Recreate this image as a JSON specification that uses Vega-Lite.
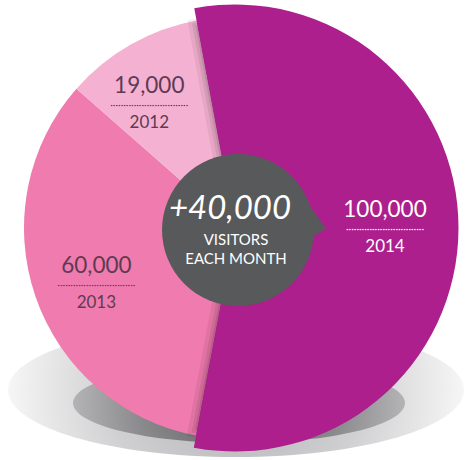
{
  "$schema": "https://vega.github.io/schema/vega-lite/v6.json",
  "width": 460,
  "height": 456,
  "autosize": "none",
  "padding": {"left": 5, "top": 0, "right": 0, "bottom": 4},
  "background": "white",
  "config": {"view": {"stroke": null}, "font": "Lato"},
  "data": {"values": [
    {"year": "2014", "visitors": 100000},
    {"year": "2013", "visitors": 60000},
    {"year": "2012", "visitors": 19000}
  ]},
  "resolve": {"scale": {"theta": "independent"}},
  "layer": [
    {
      "data": {"values": [{"k": "shadow-outer"}]},
      "mark": {"type": "point", "shape": "M-1,0A1,0.294 0 1,0 1,0A1,0.294 0 1,0 -1,0Z", "size": 207936, "filled": true, "opacity": 1, "strokeWidth": 0,
        "fill": {"gradient": "radial", "stops": [{"offset": 0, "color": "#b4b4b6"}, {"offset": 0.55, "color": "#d0d0d2"}, {"offset": 1, "color": "#f6f6f6"}]},
        "x": {"expr": "width/2+1"}, "y": {"expr": "height/2+162"}},
      "encoding": {}
    },
    {
      "data": {"values": [{"k": "shadow-inner"}]},
      "mark": {"type": "point", "shape": "M-1,0A1,0.241 0 1,0 1,0A1,0.241 0 1,0 -1,0Z", "size": 110224, "filled": true, "opacity": 1, "strokeWidth": 0,
        "fill": {"gradient": "radial", "stops": [{"offset": 0, "color": "#5e5e60"}, {"offset": 0.6, "color": "#8a8a8c"}, {"offset": 1, "color": "#b4b4b6"}]},
        "x": {"expr": "width/2+4"}, "y": {"expr": "height/2+175"}},
      "encoding": {}
    },
    {
      "layer": [
        {
          "mark": {"type": "arc", "outerRadius": 211},
          "encoding": {
            "theta": {"field": "visitors", "type": "quantitative", "stack": true, "scale": {"range": [-0.1833, 6.0999]}},
            "order": {"field": "visitors", "sort": "descending"},
            "color": {"field": "year", "type": "nominal", "scale": {"domain": ["2014", "2013", "2012"], "range": ["#AD1F8D", "#F07BAF", "#F5B1D2"]}, "legend": null}
          }
        },
        {
          "mark": {"type": "arc", "outerRadius": 204, "fillOpacity": 0, "stroke": "#000000", "strokeWidth": 18, "strokeOpacity": 0.06, "strokeJoin": "miter"},
          "encoding": {
            "theta": {"field": "visitors", "type": "quantitative", "stack": true},
            "order": {"field": "visitors", "sort": "descending"},
            "opacity": {"condition": {"test": "datum.year === '2014'", "value": 1}, "value": 0}
          }
        },
        {
          "mark": {"type": "arc", "outerRadius": 204, "fillOpacity": 0, "stroke": "#000000", "strokeWidth": 10, "strokeOpacity": 0.08, "strokeJoin": "miter"},
          "encoding": {
            "theta": {"field": "visitors", "type": "quantitative", "stack": true},
            "order": {"field": "visitors", "sort": "descending"},
            "opacity": {"condition": {"test": "datum.year === '2014'", "value": 1}, "value": 0}
          }
        },
        {
          "mark": {"type": "arc", "outerRadius": 204, "fillOpacity": 0, "stroke": "#000000", "strokeWidth": 4, "strokeOpacity": 0.1, "strokeJoin": "miter"},
          "encoding": {
            "theta": {"field": "visitors", "type": "quantitative", "stack": true},
            "order": {"field": "visitors", "sort": "descending"},
            "opacity": {"condition": {"test": "datum.year === '2014'", "value": 1}, "value": 0}
          }
        },
        {
          "mark": {"type": "arc", "outerRadius": 223.5},
          "encoding": {
            "theta": {"field": "visitors", "type": "quantitative", "stack": true},
            "order": {"field": "visitors", "sort": "descending"},
            "color": {"field": "year", "type": "nominal", "legend": null},
            "opacity": {"condition": {"test": "datum.year === '2014'", "value": 1}, "value": 0}
          }
        }
      ]
    },
    {
      "data": {"values": [{"k": "pointer"}]},
      "mark": {"type": "point", "shape": "M0,-1L1,0.4L0,1Z", "size": 1024, "filled": true, "opacity": 1, "strokeWidth": 0, "fill": "#58595B",
        "x": {"expr": "width/2+75"}, "y": {"expr": "height/2-6"}},
      "encoding": {}
    },
    {
      "data": {"values": [{"k": "hub"}]},
      "mark": {"type": "point", "shape": "circle", "size": 23104, "filled": true, "opacity": 1, "strokeWidth": 0, "fill": "#58595B",
        "x": {"expr": "width/2+3"}, "y": {"expr": "height/2+2"}},
      "encoding": {}
    },
    {
      "data": {"values": [{"k": "hub-text"}]},
      "mark": {"type": "text", "text": "+40,000", "fontSize": 33, "fontStyle": "italic", "fill": "#ffffff", "align": "center", "baseline": "alphabetic",
        "x": {"expr": "width/2-5"}, "y": {"expr": "height/2-9"}},
      "encoding": {}
    },
    {
      "data": {"values": [{"k": "hub-text"}]},
      "mark": {"type": "text", "text": "VISITORS", "fontSize": 15, "fill": "#ffffff", "align": "center", "baseline": "alphabetic",
        "x": {"expr": "width/2+1"}, "y": {"expr": "height/2+17"}},
      "encoding": {}
    },
    {
      "data": {"values": [{"k": "hub-text"}]},
      "mark": {"type": "text", "text": "EACH MONTH", "fontSize": 15, "fill": "#ffffff", "align": "center", "baseline": "alphabetic",
        "x": {"expr": "width/2+1"}, "y": {"expr": "height/2+36"}},
      "encoding": {}
    },
    {
      "layer": [
        {
          "mark": {"type": "text", "radius": 150, "fontSize": 22.5, "align": "center", "baseline": "alphabetic", "dy": -12},
          "encoding": {
            "theta": {"field": "visitors", "type": "quantitative", "stack": true, "scale": {"range": [-0.1349, 6.0004]}},
            "order": {"field": "visitors", "sort": "descending"},
            "text": {"field": "visitors", "type": "quantitative", "format": ","},
            "color": {"condition": {"test": "datum.year === '2014'", "value": "#ffffff"}, "value": "#5D3B52"}
          }
        },
        {
          "mark": {"type": "text", "radius": 150, "fontSize": 10, "align": "center", "baseline": "middle", "dy": 0, "text": "······························"},
          "encoding": {
            "theta": {"field": "visitors", "type": "quantitative", "stack": true},
            "order": {"field": "visitors", "sort": "descending"},
            "color": {"condition": {"test": "datum.year === '2014'", "value": "#ffffff"}, "value": "#5D3B52"}
          }
        },
        {
          "mark": {"type": "text", "radius": 150, "fontSize": 17, "align": "center", "baseline": "alphabetic", "dy": 23},
          "encoding": {
            "theta": {"field": "visitors", "type": "quantitative", "stack": true},
            "order": {"field": "visitors", "sort": "descending"},
            "text": {"field": "year", "type": "nominal"},
            "color": {"condition": {"test": "datum.year === '2014'", "value": "#ffffff"}, "value": "#5D3B52"}
          }
        }
      ]
    }
  ]
}
